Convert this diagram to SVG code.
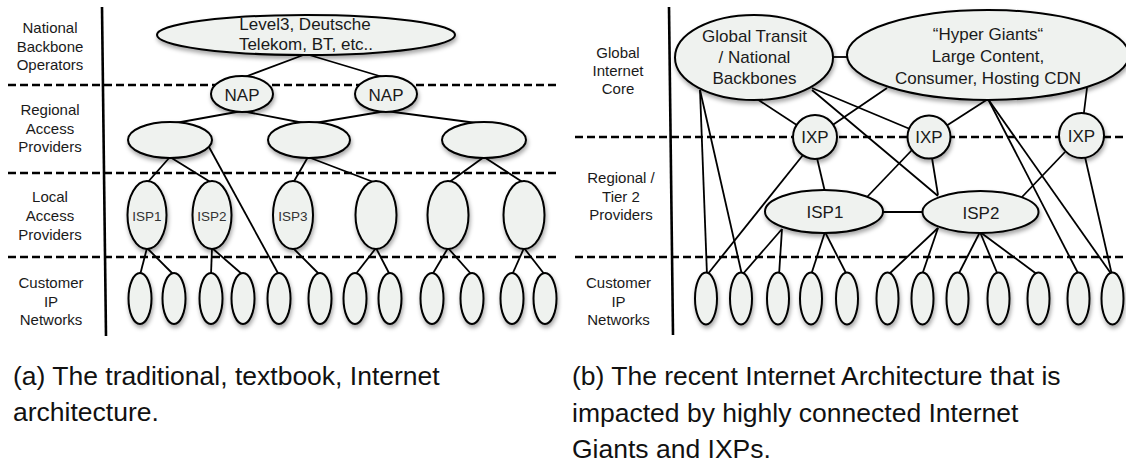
<svg xmlns="http://www.w3.org/2000/svg" width="1126" height="463" viewBox="0 0 1126 463">
<defs>
<filter id="sh" x="-30%" y="-30%" width="160%" height="170%">
<feDropShadow dx="1" dy="3" stdDeviation="2" flood-color="#000" flood-opacity="0.35"/>
</filter>
<style>
.n{fill:#eff2ef;stroke:#000;stroke-width:2;filter:url(#sh)}
.c{stroke:#000;stroke-width:1.8;fill:none}
.d{stroke:#000;stroke-width:2.6;stroke-dasharray:8 4;fill:none}
.v{stroke:#000;stroke-width:2.6;fill:none}
.t{font-family:"Liberation Sans",Arial,sans-serif;font-size:17px;fill:#1a1a1a;text-anchor:middle}
.ts{font-family:"Liberation Sans",Arial,sans-serif;font-size:13.5px;fill:#333;text-anchor:middle}
.l{font-family:"Liberation Sans",Arial,sans-serif;font-size:15px;fill:#1a1a1a;text-anchor:middle}
.cap{font-family:"Liberation Sans",Arial,sans-serif;font-size:26.5px;fill:#111}
</style>
</defs>
<rect width="1126" height="463" fill="#fff"/>

<!-- ===== (a) left diagram ===== -->
<g id="a-grid">
<line class="v" x1="102" y1="7" x2="106" y2="336"/>
<line class="d" x1="8" y1="85" x2="557" y2="85"/>
<line class="d" x1="8" y1="173" x2="557" y2="173"/>
<line class="d" x1="8" y1="257" x2="557" y2="257"/>
</g>
<g id="a-labels">
<text class="l" x="50"><tspan x="50" y="33">National</tspan><tspan x="50" y="51.5">Backbone</tspan><tspan x="50" y="70">Operators</tspan></text>
<text class="l" x="50"><tspan x="50" y="115">Regional</tspan><tspan x="50" y="133.5">Access</tspan><tspan x="50" y="152">Providers</tspan></text>
<text class="l" x="50"><tspan x="50" y="202">Local</tspan><tspan x="50" y="221">Access</tspan><tspan x="50" y="240">Providers</tspan></text>
<text class="l" x="51"><tspan x="51" y="288">Customer</tspan><tspan x="51" y="306.5">IP</tspan><tspan x="51" y="325">Networks</tspan></text>
</g>
<g id="a-connectors">
<line class="c" x1="306" y1="54" x2="242" y2="78"/>
<line class="c" x1="306" y1="54" x2="386" y2="78"/>
<line class="c" x1="242" y1="111" x2="170" y2="124"/>
<line class="c" x1="242" y1="111" x2="309" y2="124"/>
<line class="c" x1="386" y1="111" x2="309" y2="124"/>
<line class="c" x1="386" y1="111" x2="484" y2="124"/>
<line class="c" x1="170" y1="157" x2="147" y2="183"/>
<line class="c" x1="170" y1="157" x2="212" y2="183"/>
<line class="c" x1="209" y1="147" x2="279" y2="275"/>
<line class="c" x1="308" y1="157" x2="293" y2="183"/>
<line class="c" x1="308" y1="157" x2="376" y2="183"/>
<line class="c" x1="484" y1="157" x2="448" y2="183"/>
<line class="c" x1="484" y1="157" x2="524" y2="183"/>
<line class="c" x1="147" y1="248" x2="140" y2="275"/>
<line class="c" x1="147" y1="248" x2="174" y2="275"/>
<line class="c" x1="212" y1="248" x2="211" y2="275"/>
<line class="c" x1="212" y1="248" x2="243" y2="275"/>
<line class="c" x1="293" y1="248" x2="320" y2="275"/>
<line class="c" x1="376" y1="248" x2="355" y2="275"/>
<line class="c" x1="376" y1="248" x2="390" y2="275"/>
<line class="c" x1="448" y1="248" x2="432" y2="275"/>
<line class="c" x1="448" y1="248" x2="472" y2="275"/>
<line class="c" x1="524" y1="248" x2="512" y2="275"/>
<line class="c" x1="524" y1="248" x2="545" y2="275"/>
</g>
<g id="a-backbone"><ellipse class="n" cx="306" cy="35" rx="149" ry="20"/><text class="t"><tspan x="305" y="30">Level3, Deutsche</tspan><tspan x="306" y="50">Telekom, BT, etc..</tspan></text></g>
<g id="a-nap1"><ellipse class="n" cx="242" cy="94" rx="31" ry="18"/><text class="t" x="242" y="100.5">NAP</text></g>
<g id="a-nap2"><ellipse class="n" cx="386" cy="94" rx="31" ry="18"/><text class="t" x="386" y="100.5">NAP</text></g>
<g id="a-reg1"><ellipse class="n" cx="170" cy="140" rx="42" ry="18"/></g>
<g id="a-reg2"><ellipse class="n" cx="309" cy="140" rx="41" ry="18"/></g>
<g id="a-reg3"><ellipse class="n" cx="484" cy="140" rx="42" ry="18"/></g>
<g id="a-isp1"><ellipse class="n" cx="147" cy="215" rx="19.5" ry="34"/><text class="ts" x="147" y="221">ISP1</text></g>
<g id="a-isp2"><ellipse class="n" cx="212" cy="215" rx="19.5" ry="34"/><text class="ts" x="212" y="221">ISP2</text></g>
<g id="a-isp3"><ellipse class="n" cx="293" cy="215" rx="20" ry="34"/><text class="ts" x="293" y="221">ISP3</text></g>
<g id="a-loc4"><ellipse class="n" cx="376" cy="215" rx="20.5" ry="34"/></g>
<g id="a-loc5"><ellipse class="n" cx="448" cy="215" rx="20.5" ry="34"/></g>
<g id="a-loc6"><ellipse class="n" cx="524" cy="215" rx="20.5" ry="34"/></g>
<g id="a-cust1"><ellipse class="n" cx="140" cy="298.5" rx="11.5" ry="25.5"/></g>
<g id="a-cust2"><ellipse class="n" cx="174" cy="298.5" rx="11.5" ry="25.5"/></g>
<g id="a-cust3"><ellipse class="n" cx="211" cy="298.5" rx="11.5" ry="25.5"/></g>
<g id="a-cust4"><ellipse class="n" cx="243" cy="298.5" rx="11.5" ry="25.5"/></g>
<g id="a-cust5"><ellipse class="n" cx="279" cy="298.5" rx="11.5" ry="25.5"/></g>
<g id="a-cust6"><ellipse class="n" cx="320" cy="298.5" rx="11.5" ry="25.5"/></g>
<g id="a-cust7"><ellipse class="n" cx="355" cy="298.5" rx="11.5" ry="25.5"/></g>
<g id="a-cust8"><ellipse class="n" cx="390" cy="298.5" rx="11.5" ry="25.5"/></g>
<g id="a-cust9"><ellipse class="n" cx="432" cy="298.5" rx="11.5" ry="25.5"/></g>
<g id="a-cust10"><ellipse class="n" cx="472" cy="298.5" rx="11.5" ry="25.5"/></g>
<g id="a-cust11"><ellipse class="n" cx="512" cy="298.5" rx="11.5" ry="25.5"/></g>
<g id="a-cust12"><ellipse class="n" cx="545" cy="298.5" rx="11.5" ry="25.5"/></g>

<!-- ===== (b) right diagram ===== -->
<g id="b-grid">
<line class="v" x1="669" y1="7" x2="673" y2="335"/>
<line class="d" x1="575" y1="137" x2="1126" y2="137"/>
<line class="d" x1="575" y1="257" x2="1126" y2="257"/>
</g>
<g id="b-labels">
<text class="l"><tspan x="618" y="58">Global</tspan><tspan x="618" y="76">Internet</tspan><tspan x="618" y="94">Core</tspan></text>
<text class="l"><tspan x="621" y="183">Regional /</tspan><tspan x="621" y="201.5">Tier 2</tspan><tspan x="621" y="220">Providers</tspan></text>
<text class="l"><tspan x="618.5" y="288">Customer</tspan><tspan x="618.5" y="306.5">IP</tspan><tspan x="618.5" y="324.5">Networks</tspan></text>
</g>
<g id="b-connectors">
<line class="c" x1="700" y1="90" x2="707" y2="275"/>
<line class="c" x1="700" y1="90" x2="742" y2="275"/>
<line class="c" x1="757" y1="99" x2="815" y2="137"/>
<line class="c" x1="812" y1="88" x2="929" y2="137"/>
<line class="c" x1="812" y1="90" x2="938" y2="196"/>
<line class="c" x1="832" y1="57" x2="848" y2="57"/>
<line class="c" x1="887" y1="88" x2="815" y2="137"/>
<line class="c" x1="988" y1="99" x2="929" y2="137"/>
<line class="c" x1="988" y1="99" x2="1079" y2="275"/>
<line class="c" x1="988" y1="99" x2="1112" y2="275"/>
<line class="c" x1="1087" y1="88" x2="1081" y2="136"/>
<line class="c" x1="803" y1="155" x2="707" y2="275"/>
<line class="c" x1="817" y1="158" x2="825" y2="192"/>
<line class="c" x1="912" y1="150" x2="867" y2="197"/>
<line class="c" x1="932" y1="158" x2="938" y2="195"/>
<line class="c" x1="1065" y1="152" x2="1022" y2="197"/>
<line class="c" x1="1085" y1="157" x2="1112" y2="275"/>
<line class="c" x1="882" y1="212" x2="923" y2="212"/>
<line class="c" x1="782" y1="229" x2="742" y2="275"/>
<line class="c" x1="782" y1="229" x2="779" y2="275"/>
<line class="c" x1="825" y1="232" x2="811" y2="275"/>
<line class="c" x1="825" y1="232" x2="847" y2="275"/>
<line class="c" x1="938" y1="228" x2="888" y2="275"/>
<line class="c" x1="938" y1="228" x2="922" y2="275"/>
<line class="c" x1="980" y1="232" x2="958" y2="275"/>
<line class="c" x1="980" y1="232" x2="998" y2="275"/>
<line class="c" x1="980" y1="232" x2="1038" y2="275"/>
</g>
<g id="b-transit"><ellipse class="n" cx="754" cy="57.5" rx="79" ry="42.5"/><text class="t"><tspan x="754.5" y="42">Global Transit</tspan><tspan x="754.5" y="63">/ National</tspan><tspan x="754.5" y="83.5">Backbones</tspan></text></g>
<g id="b-hyper"><ellipse class="n" cx="988" cy="55" rx="141" ry="45"/><text class="t"><tspan x="988" y="39.5">“Hyper Giants“</tspan><tspan x="988" y="62">Large Content,</tspan><tspan x="988" y="83.5">Consumer, Hosting CDN</tspan></text></g>
<g id="b-ixp1"><circle class="n" cx="815" cy="137" r="22"/><text class="t" x="815" y="143">IXP</text></g>
<g id="b-ixp2"><circle class="n" cx="929" cy="137" r="21.5"/><text class="t" x="929" y="143">IXP</text></g>
<g id="b-ixp3"><circle class="n" cx="1081.5" cy="135.5" r="22.5"/><text class="t" x="1081.5" y="141.5">IXP</text></g>
<g id="b-isp1"><ellipse class="n" cx="824" cy="211.5" rx="59" ry="21.5"/><text class="t" x="825" y="218">ISP1</text></g>
<g id="b-isp2"><ellipse class="n" cx="980.5" cy="212" rx="58" ry="21"/><text class="t" x="981" y="218.5">ISP2</text></g>
<g id="b-cust1"><ellipse class="n" cx="706" cy="298.5" rx="11" ry="26"/></g>
<g id="b-cust2"><ellipse class="n" cx="741" cy="298.5" rx="11" ry="26"/></g>
<g id="b-cust3"><ellipse class="n" cx="778" cy="298.5" rx="11" ry="26"/></g>
<g id="b-cust4"><ellipse class="n" cx="811" cy="298.5" rx="11" ry="26"/></g>
<g id="b-cust5"><ellipse class="n" cx="847" cy="298.5" rx="11" ry="26"/></g>
<g id="b-cust6"><ellipse class="n" cx="887.5" cy="298.5" rx="11" ry="26"/></g>
<g id="b-cust7"><ellipse class="n" cx="922.5" cy="298.5" rx="11" ry="26"/></g>
<g id="b-cust8"><ellipse class="n" cx="957.5" cy="298.5" rx="11" ry="26"/></g>
<g id="b-cust9"><ellipse class="n" cx="998.5" cy="298.5" rx="11" ry="26"/></g>
<g id="b-cust10"><ellipse class="n" cx="1038.5" cy="298.5" rx="11" ry="26"/></g>
<g id="b-cust11"><ellipse class="n" cx="1078.5" cy="298.5" rx="11" ry="26"/></g>
<g id="b-cust12"><ellipse class="n" cx="1112.5" cy="298.5" rx="11" ry="26"/></g>

<g id="captions">
<text class="cap"><tspan x="13" y="385">(a) The traditional, textbook, Internet</tspan><tspan x="13" y="421">architecture.</tspan></text>
<text class="cap"><tspan x="572" y="385">(b) The recent Internet Architecture that is</tspan><tspan x="572" y="421.5">impacted by highly connected Internet</tspan><tspan x="572" y="457.5">Giants and IXPs.</tspan></text>
</g>
</svg>
